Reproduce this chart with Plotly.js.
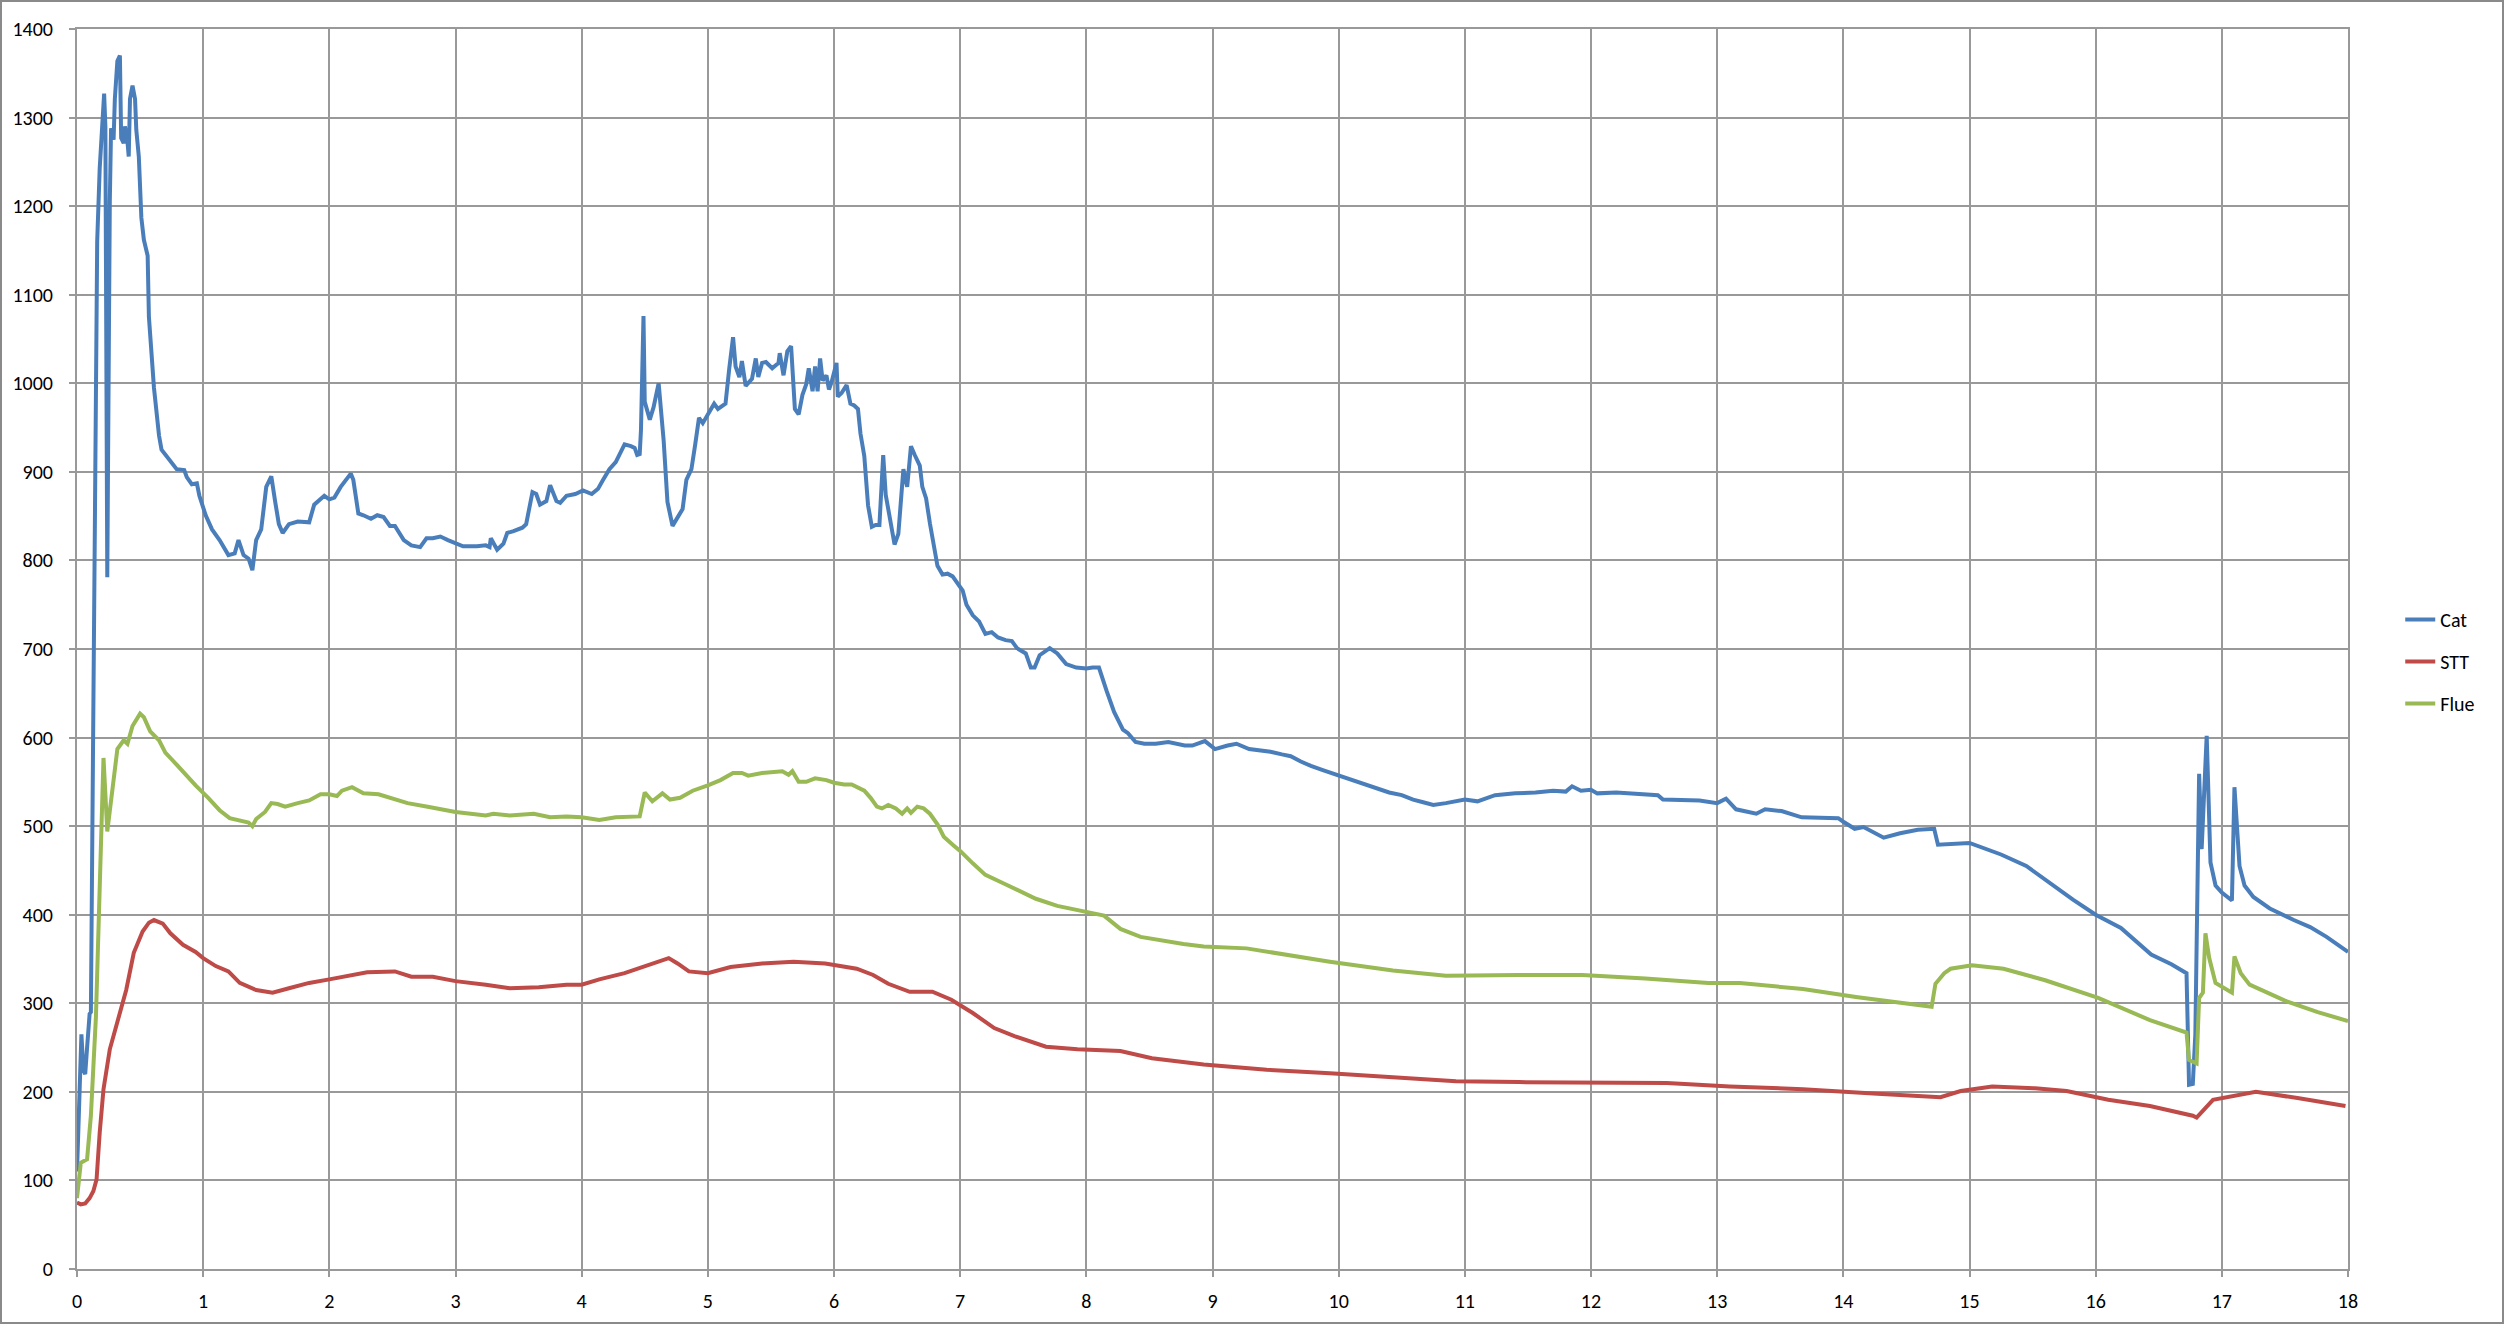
<!DOCTYPE html>
<html>
<head>
<meta charset="utf-8">
<script src="https://cdn.plot.ly/plotly-3.0.1.min.js"></script>
<style>
html,body{margin:0;padding:0;background:#fff;}
#frame{position:absolute;left:0;top:0;width:2504px;height:1324px;box-sizing:border-box;border:2px solid #8a8a8a;}
#chart{position:absolute;left:0;top:0;width:2504px;height:1324px;}
</style>
</head>
<body>
<div id="frame"></div>
<div id="chart"></div>
<script>
// ---- data ----
const catX = [0,0.02,0.035,0.05,0.065,0.08,0.1,0.11,0.135,0.16,0.18,0.2,0.215,0.225,0.24,0.26,0.27,0.29,0.3,0.32,0.34,0.35,0.37,0.38,0.4,0.41,0.42,0.44,0.46,0.47,0.49,0.51,0.53,0.56,0.57,0.61,0.65,0.67,0.71,0.75,0.79,0.85,0.87,0.91,0.95,0.97,1.02,1.07,1.13,1.2,1.25,1.28,1.32,1.36,1.39,1.42,1.46,1.5,1.54,1.57,1.6,1.63,1.68,1.75,1.84,1.88,1.91,1.96,2.0,2.04,2.09,2.14,2.17,2.19,2.23,2.27,2.33,2.38,2.43,2.48,2.52,2.59,2.65,2.72,2.77,2.82,2.88,2.94,3.01,3.06,3.17,3.24,3.27,3.28,3.33,3.38,3.41,3.46,3.53,3.56,3.61,3.64,3.67,3.72,3.75,3.8,3.83,3.88,3.95,4.01,4.08,4.13,4.17,4.22,4.27,4.34,4.39,4.42,4.44,4.46,4.47,4.49,4.5,4.54,4.57,4.61,4.65,4.68,4.72,4.77,4.8,4.83,4.87,4.9,4.93,4.96,5.0,5.05,5.08,5.14,5.17,5.2,5.22,5.25,5.27,5.3,5.35,5.38,5.4,5.43,5.46,5.51,5.56,5.57,5.6,5.63,5.66,5.69,5.72,5.75,5.78,5.8,5.83,5.85,5.87,5.89,5.91,5.94,5.96,5.98,6.02,6.03,6.06,6.1,6.13,6.16,6.19,6.21,6.24,6.27,6.3,6.33,6.36,6.39,6.41,6.44,6.48,6.51,6.55,6.58,6.61,6.64,6.68,6.7,6.73,6.76,6.79,6.82,6.86,6.9,6.94,7.02,7.05,7.1,7.15,7.2,7.25,7.3,7.36,7.41,7.45,7.52,7.56,7.59,7.63,7.71,7.77,7.84,7.92,8.0,8.05,8.1,8.16,8.22,8.29,8.33,8.39,8.46,8.55,8.65,8.78,8.84,8.94,9.02,9.12,9.19,9.29,9.38,9.46,9.55,9.62,9.7,9.78,9.88,10.0,10.14,10.27,10.4,10.5,10.59,10.67,10.75,10.85,11.0,11.1,11.24,11.4,11.56,11.7,11.8,11.85,11.92,12.0,12.05,12.2,12.37,12.53,12.57,12.7,12.86,13.0,13.07,13.15,13.31,13.38,13.51,13.67,13.83,13.96,14.0,14.09,14.16,14.32,14.45,14.59,14.72,14.75,15.0,15.25,15.45,15.64,15.82,16.0,16.2,16.44,16.6,16.72,16.74,16.77,16.79,16.82,16.84,16.88,16.91,16.95,17.0,17.08,17.1,17.14,17.18,17.25,17.38,17.57,17.7,17.83,18.0];
const catY = [110,200,265,225,220,250,288,290,750,1160,1243,1290,1327,1290,781,1204,1288,1275,1321,1364,1370,1277,1271,1290,1273,1256,1321,1336,1321,1286,1256,1187,1162,1144,1075,995,941,925,918,911,903,902,894,886,887,873,851,835,823,806,808,823,806,802,789,823,835,883,895,867,841,831,841,844,843,863,867,873,869,871,883,893,898,891,853,851,847,851,849,839,839,823,817,815,825,825,827,823,819,816,816,817,815,825,812,819,831,833,837,841,877,875,863,867,885,867,865,873,875,879,875,881,891,903,911,931,929,927,919,920,947,1076,979,959,973,1000,935,866,839,850,858,891,903,931,961,955,965,977,971,977,1017,1052,1019,1007,1025,997,1005,1028,1007,1023,1024,1017,1023,1034,1009,1036,1042,971,965,987,999,1017,991,1019,991,1028,1003,1009,993,1001,1023,985,989,998,977,975,971,943,918,862,838,840,840,919,874,850,818,830,903,883,929,919,907,883,870,842,818,794,784,785,782,766,750,738,731,717,719,713,710,709,701,695,679,679,693,701,695,683,679,678,679,679,653,629,609,605,595,593,593,595,591,591,596,587,591,593,587,586,584,581,579,573,568,563,557,551,544,538,535,530,527,524,526,530,528,535,537,538,540,539,545,540,541,537,538,537,535,530,530,529,526,531,519,514,519,517,510,509,509,505,497,499,487,492,496,497,479,481,468,455,435,417,400,385,355,344,334,208,209,265,559,474,602,459,433,425,416,544,455,433,420,407,394,386,375,358];

const sttX = [0,0.03,0.065,0.1,0.13,0.155,0.18,0.21,0.26,0.31,0.36,0.39,0.45,0.52,0.57,0.61,0.68,0.74,0.84,0.94,1.0,1.1,1.2,1.29,1.42,1.55,1.68,1.84,2.0,2.1,2.3,2.52,2.65,2.82,3.0,3.24,3.43,3.66,3.88,4.0,4.14,4.34,4.5,4.6,4.69,4.76,4.85,5.0,5.18,5.43,5.68,5.93,6.18,6.31,6.43,6.6,6.78,6.93,7.1,7.27,7.43,7.68,7.93,8.27,8.52,8.93,9.43,9.93,10.43,10.93,11.43,12.02,12.6,13.1,13.68,14.27,14.77,14.93,15.18,15.52,15.77,16.1,16.43,16.77,16.8,16.93,17.27,17.6,17.98];
const sttY = [75,73,74,80,88,101,154,203,248,274,300,315,357,381,391,394,390,379,366,358,351,342,336,323,315,312,317,323,327,330,335,336,330,330,325,321,317,318,321,321,327,334,342,347,351,345,336,334,341,345,347,345,339,332,322,313,313,304,289,272,263,251,248,246,238,231,225,221,216,212,211,211,210,206,203,198,194,201,206,204,201,191,184,173,171,191,200,193,184];

const flueX = [0,0.03,0.08,0.11,0.15,0.18,0.21,0.24,0.28,0.32,0.37,0.4,0.44,0.5,0.53,0.58,0.65,0.7,0.78,0.86,0.94,1.04,1.13,1.21,1.29,1.36,1.39,1.42,1.49,1.54,1.59,1.65,1.75,1.84,1.93,2.0,2.06,2.1,2.18,2.27,2.39,2.52,2.62,2.78,3.0,3.24,3.3,3.43,3.62,3.75,3.88,4.0,4.14,4.27,4.46,4.5,4.56,4.64,4.7,4.78,4.88,5.0,5.1,5.2,5.27,5.32,5.43,5.59,5.64,5.67,5.72,5.78,5.85,5.94,6.0,6.08,6.14,6.24,6.29,6.34,6.38,6.43,6.49,6.54,6.58,6.61,6.66,6.71,6.76,6.82,6.87,6.95,7.0,7.1,7.2,7.35,7.5,7.6,7.77,8.02,8.14,8.27,8.43,8.77,8.93,9.27,9.6,9.93,10.43,10.85,11.43,11.93,12.43,12.93,13.18,13.68,14.1,14.68,14.7,14.73,14.8,14.85,15.02,15.27,15.6,16.02,16.43,16.72,16.74,16.8,16.82,16.85,16.87,16.9,16.95,17.08,17.1,17.15,17.22,17.5,17.76,18.0];
const flueY = [80,120,124,173,285,436,577,494,544,587,597,593,613,627,623,607,597,583,571,558,546,532,518,509,506,504,500,508,516,526,525,522,526,529,536,536,534,540,544,537,536,531,526,522,516,512,514,512,514,510,511,510,507,510,511,538,528,537,530,532,540,546,552,560,560,557,560,562,558,562,550,550,554,552,549,547,547,540,532,522,520,524,520,514,520,515,522,520,514,502,488,478,472,458,445,435,425,418,410,403,399,384,375,367,364,362,354,347,337,331,332,332,328,323,323,316,307,296,296,322,334,339,343,339,326,306,281,267,236,232,306,312,379,351,323,312,353,334,321,303,290,280];

const seriesNames = ['Cat','STT','Flue'];
const seriesColors = ['#4A7EBB','#BE4B48','#98B954'];
const xTicks = [0,1,2,3,4,5,6,7,8,9,10,11,12,13,14,15,16,17,18];
const yTicks = [0,100,200,300,400,500,600,700,800,900,1000,1100,1200,1300,1400];

const FONT = 'Carlito, Calibri, Lato, "Liberation Sans", sans-serif';
const xs = [catX, sttX, flueX];
const ys = [catY, sttY, flueY];

const traces = seriesNames.map((n,i)=>({
  type:'scatter', mode:'lines', name:n, x:xs[i], y:ys[i],
  line:{color:seriesColors[i], width:4},
  legendgroup:n
}));

const layout = {
  width:2504, height:1324,
  margin:{l:77, r:156, t:29, b:55, pad:0},
  paper_bgcolor:'rgba(0,0,0,0)',
  plot_bgcolor:'#ffffff',
  font:{family:FONT, size:20, color:'#000'},
  showlegend:true,
  legend:{x:1.023, xanchor:'left', y:0.49, yanchor:'middle',
          font:{family:FONT, size:20, color:'#000'},
          bgcolor:'rgba(0,0,0,0)', tracegroupgap:13, itemwidth:30},
  xaxis:{range:[0,18], tickvals:xTicks, ticktext:xTicks.map(String),
         showgrid:true, gridcolor:'#999999', gridwidth:2,
         showline:true, linecolor:'#999999', linewidth:2, mirror:true,
         zeroline:false, ticks:'outside', ticklen:6, tickwidth:2, tickcolor:'#999999',
         ticklabelstandoff:7, tickfont:{family:FONT, size:20, color:'#000'}},
  yaxis:{range:[0,1400], tickvals:yTicks, ticktext:yTicks.map(String),
         showgrid:true, gridcolor:'#999999', gridwidth:2,
         showline:true, linecolor:'#999999', linewidth:2, mirror:true,
         zeroline:false, ticks:'outside', ticklen:6, tickwidth:2, tickcolor:'#999999',
         ticklabelstandoff:12, tickfont:{family:FONT, size:20, color:'#000'}}
};

Plotly.newPlot('chart', traces, layout, {displayModeBar:false, staticPlot:true});
</script>
</body>
</html>
